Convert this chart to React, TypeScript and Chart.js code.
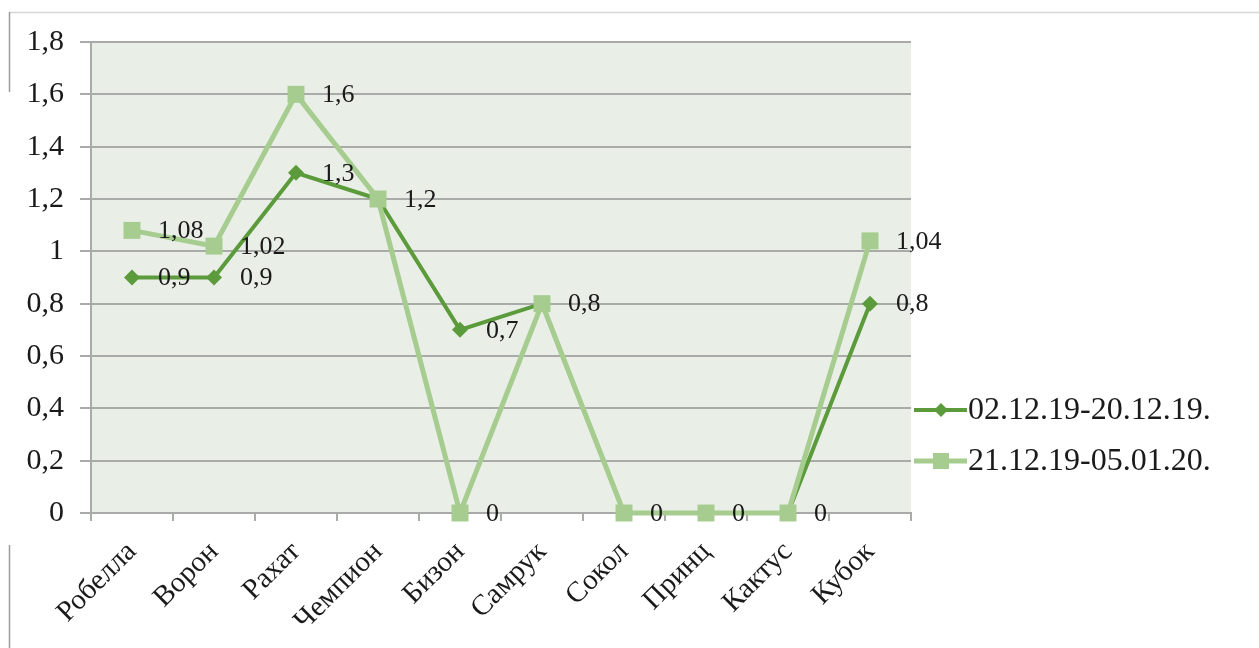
import React, { useEffect, useRef } from 'react';
import { Chart, registerables } from 'chart.js';

Chart.register(...registerables);

const categories = ['Робелла', 'Ворон', 'Рахат', 'Чемпион', 'Бизон', 'Самрук', 'Сокол', 'Принц', 'Кактус', 'Кубок'];
const series1Name = '02.12.19-20.12.19.';
const series2Name = '21.12.19-05.01.20.';
const series1 = [0.9, 0.9, 1.3, 1.2, 0.7, 0.8, 0, 0, 0, 0.8];
const series2 = [1.08, 1.02, 1.6, 1.2, 0, 0.8, 0, 0, 0, 1.04];
const yTickLabels = ['0', '0,2', '0,4', '0,6', '0,8', '1', '1,2', '1,4', '1,6', '1,8'];

const DARK = '#5c9b3c';
const LIGHT = '#a6cd8f';
const PLOT_BG = '#e9eee6';
const GRID = '#a9aba8';
const TEXT = '#1a1a1a';
const FONT = "'Liberation Serif', 'Times New Roman', serif";

const fmt = (v: number) => String(v).replace('.', ',');

const decor = {
  id: 'decor',
  beforeDraw(chart: any) {
    const { ctx, chartArea: a } = chart;
    ctx.save();
    ctx.fillStyle = '#ffffff';
    ctx.fillRect(0, 0, chart.width, chart.height);
    ctx.lineWidth = 1.5;
    ctx.strokeStyle = '#d6d6d6';
    ctx.beginPath();
    ctx.moveTo(9, 12.5);
    ctx.lineTo(chart.width, 12.5);
    ctx.stroke();
    ctx.strokeStyle = '#9c9c9c';
    ctx.beginPath();
    ctx.moveTo(9.5, 12);
    ctx.lineTo(9.5, 92);
    ctx.moveTo(9.5, 545);
    ctx.lineTo(9.5, chart.height);
    ctx.stroke();
    ctx.fillStyle = PLOT_BG;
    ctx.fillRect(a.left, a.top, a.right - a.left, a.bottom - a.top);
    ctx.restore();
  },
  afterDatasetsDraw(chart: any) {
    const { ctx } = chart;
    ctx.save();
    ctx.font = `26px ${FONT}`;
    ctx.fillStyle = TEXT;
    ctx.textAlign = 'left';
    ctx.textBaseline = 'middle';
    const seen = new Set<string>();
    chart.data.datasets.forEach((ds: any, i: number) => {
      const meta = chart.getDatasetMeta(i);
      meta.data.forEach((pt: any, j: number) => {
        const v = ds.data[j];
        if (v === null || v === undefined) return;
        const key = `${j}:${v}`;
        if (seen.has(key)) return;
        seen.add(key);
        ctx.fillText(fmt(v), pt.x + 26, pt.y + 1);
      });
    });
    ctx.restore();
  },
  afterDraw(chart: any) {
    const { ctx } = chart;
    const items = [
      { name: series1Name, color: DARK, style: 'rectRot', w: 4 },
      { name: series2Name, color: LIGHT, style: 'rect', w: 5 },
    ];
    ctx.save();
    items.forEach((it, i) => {
      const y = 410 + i * 51;
      ctx.strokeStyle = it.color;
      ctx.lineWidth = it.w;
      ctx.beginPath();
      ctx.moveTo(914, y);
      ctx.lineTo(967, y);
      ctx.stroke();
      ctx.fillStyle = it.color;
      ctx.beginPath();
      if (it.style === 'rect') {
        const s = 8;
        ctx.rect(941 - s, y - s, 2 * s, 2 * s);
      } else {
        ctx.moveTo(941 - 7, y);
        ctx.lineTo(941, y - 7);
        ctx.lineTo(941 + 7, y);
        ctx.lineTo(941, y + 7);
        ctx.closePath();
      }
      ctx.fill();
      ctx.font = `32px ${FONT}`;
      ctx.fillStyle = TEXT;
      ctx.textAlign = 'left';
      ctx.textBaseline = 'middle';
      ctx.fillText(it.name, 968, y + 1);
    });
    ctx.restore();
  },
};

export default function App() {
  const ref = useRef<HTMLCanvasElement | null>(null);

  useEffect(() => {
    if (!ref.current) return;
    const chart = new Chart(ref.current, {
      type: 'line',
      data: {
        labels: categories,
        datasets: [
          {
            label: series1Name,
            data: series1,
            borderColor: DARK,
            backgroundColor: DARK,
            borderWidth: 4,
            pointStyle: 'rectRot',
            pointRadius: 8,
            pointBorderWidth: 0,
            tension: 0,
            clip: false,
            order: 1,
          },
          {
            label: series2Name,
            data: series2,
            borderColor: LIGHT,
            backgroundColor: LIGHT,
            borderWidth: 5,
            pointStyle: 'rect',
            pointRadius: 12,
            pointBorderWidth: 0,
            tension: 0,
            clip: false,
            order: 0,
          },
        ],
      },
      options: {
        responsive: false,
        animation: false,
        devicePixelRatio: 1,
        layout: { padding: { top: 42, right: 348, left: 0, bottom: 0 } },
        plugins: { legend: { display: false }, tooltip: { enabled: false } },
        scales: {
          x: {
            offset: true,
            afterFit: (s: any) => {
              s.height = 135;
              s.paddingLeft = 0;
              s.paddingRight = 0;
            },
            grid: {
              offset: true,
              drawOnChartArea: false,
              drawTicks: true,
              tickLength: 8,
              color: GRID,
              lineWidth: 2,
            },
            border: { color: GRID, width: 2 },
            ticks: {
              minRotation: 45,
              maxRotation: 45,
              autoSkip: false,
              padding: 14,
              color: TEXT,
              font: { family: FONT, size: 29 },
            },
          },
          y: {
            min: 0,
            max: 1.8,
            afterFit: (s: any) => {
              s.width = 91;
            },
            afterBuildTicks: (s: any) => {
              s.ticks = yTickLabels.map((_, i) => ({ value: Math.round(i * 2) / 10 }));
            },
            grid: { color: GRID, lineWidth: 2, tickLength: 11 },
            border: { color: GRID, width: 2 },
            ticks: {
              padding: 16,
              color: TEXT,
              font: { family: FONT, size: 30 },
              callback: (_v: any, i: number) => yTickLabels[i],
            },
          },
        },
      },
      plugins: [decor],
    });
    return () => chart.destroy();
  }, []);

  return (
    <div style={{ position: 'fixed', left: 0, top: 0, width: 1259, height: 648, background: '#fff' }}>
      <canvas ref={ref} width={1259} height={648} style={{ width: 1259, height: 648, display: 'block' }} />
    </div>
  );
}
